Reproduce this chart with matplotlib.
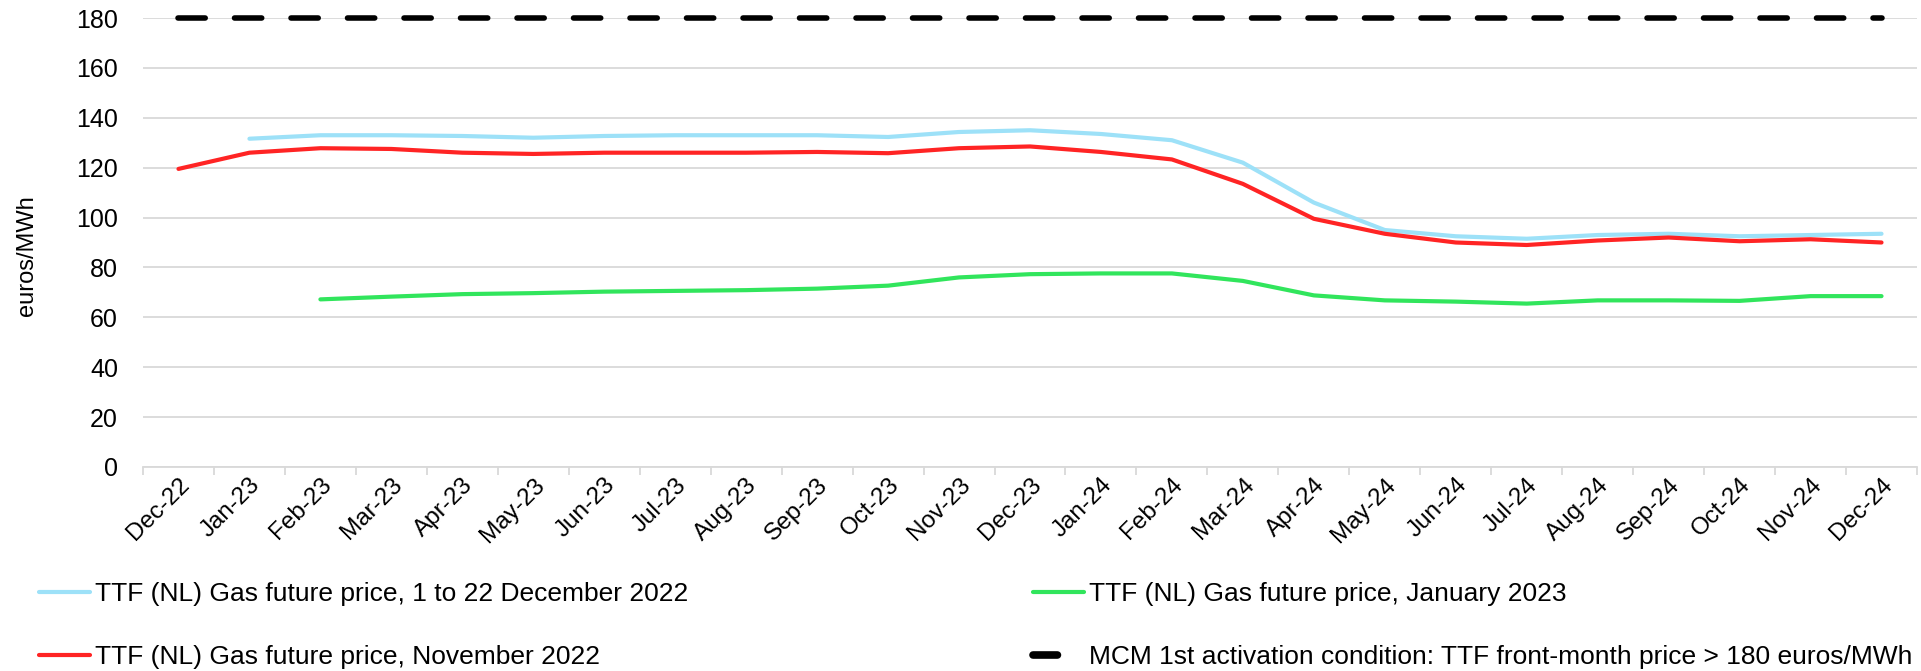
import numpy as np
import matplotlib
matplotlib.use("Agg")
import matplotlib.pyplot as plt
from matplotlib.lines import Line2D

plt.rcParams['font.family'] = ['Liberation Sans', 'DejaVu Sans']

months = ["Dec-22", "Jan-23", "Feb-23", "Mar-23", "Apr-23", "May-23", "Jun-23", "Jul-23",
          "Aug-23", "Sep-23", "Oct-23", "Nov-23", "Dec-23", "Jan-24", "Feb-24", "Mar-24",
          "Apr-24", "May-24", "Jun-24", "Jul-24", "Aug-24", "Sep-24", "Oct-24", "Nov-24", "Dec-24"]

nan = np.nan
ttf_dec22 = [nan, 131.6, 133.0, 133.0, 132.7, 132.0, 132.7, 133.0, 133.0, 133.0, 132.3, 134.3,
             135.0, 133.5, 131.0, 122.0, 106.0, 95.0, 92.5, 91.5, 93.0, 93.5, 92.5, 93.0, 93.5]
ttf_nov22 = [119.5, 126.0, 127.8, 127.5, 126.0, 125.5, 126.0, 126.0, 126.0, 126.3, 125.8, 127.8,
             128.5, 126.3, 123.3, 113.5, 99.5, 93.5, 90.0, 89.0, 90.8, 92.0, 90.5, 91.3, 90.0]
ttf_jan23 = [nan, nan, 67.2, 68.3, 69.3, 69.7, 70.3, 70.6, 70.9, 71.5, 72.7, 76.0,
             77.3, 77.6, 77.6, 74.6, 68.8, 66.8, 66.3, 65.5, 66.8, 66.8, 66.6, 68.5, 68.5]
mcm_threshold = [180] * len(months)

labels = ["TTF (NL) Gas future price, 1 to 22 December 2022",
          "TTF (NL) Gas future price, November 2022",
          "TTF (NL) Gas future price, January 2023",
          "MCM 1st activation condition: TTF front-month price > 180 euros/MWh"]

c_blue = '#9de1f8'
c_red = '#ff2424'
c_green = '#31e55c'

W, H = 1921, 671
fig = plt.figure(figsize=(W / 100, H / 100), dpi=100)
ax = fig.add_axes([143 / W, 1 - 467 / H, (1917 - 143) / W, (467 - 18) / H])

x = np.arange(len(months))
l_blue, = ax.plot(x, ttf_dec22, color=c_blue, lw=3.0, solid_capstyle='round', zorder=3)
l_red, = ax.plot(x, ttf_nov22, color=c_red, lw=3.0, solid_capstyle='round', zorder=4)
l_green, = ax.plot(x, ttf_jan23, color=c_green, lw=3.0, solid_capstyle='round', zorder=3)
l_black, = ax.plot(x, mcm_threshold, color='black', lw=4.0, dashes=(4.9, 5.27),
                   dash_capstyle='round', zorder=5, clip_on=False)

ax.set_xlim(-0.5, len(months) - 0.5)
ax.set_ylim(0, 180)
ax.set_yticks(np.arange(0, 181, 20))
ax.tick_params(axis='y', length=0, labelsize=18, pad=18, colors='black')
ax.yaxis.grid(True, color='#d9d9d9', lw=1.3)
ax.set_axisbelow(True)

ax.set_xticks(x)
ax.set_xticklabels(months, rotation=45, ha='right', rotation_mode='anchor', fontsize=17.5)
ax.set_xticks(np.arange(-0.5, len(months), 1), minor=True)
ax.tick_params(axis='x', which='major', length=0, pad=5)
ax.tick_params(axis='x', which='minor', length=6, color='#d9d9d9', width=1.3)

for s in ['top', 'right', 'left']:
    ax.spines[s].set_visible(False)
ax.spines['bottom'].set_color('#d9d9d9')
ax.spines['bottom'].set_linewidth(1.3)

ax.set_ylabel("euros/MWh", fontsize=17)
ax.yaxis.label.set_verticalalignment('center')
ax.yaxis.set_label_coords((27 - 143) / (1917 - 143), (467 - 256) / (467 - 18))

black_handle = Line2D([0], [0], color='black', lw=5.5, dashes=(3.2, 10),
                      dash_capstyle='round')

leg_kw = dict(loc='upper left', frameon=False, fontsize=19, handlelength=1.93,
              handletextpad=0.19, labelspacing=1.48, borderpad=0, borderaxespad=0)
leg1 = fig.legend([l_blue, l_red], labels[:2], bbox_to_anchor=(39 / W, 1 - 582 / H), **leg_kw)
leg2 = fig.legend([l_green, black_handle], labels[2:], bbox_to_anchor=(1033 / W, 1 - 582 / H), **leg_kw)

fig.savefig("out.png", dpi=100)
